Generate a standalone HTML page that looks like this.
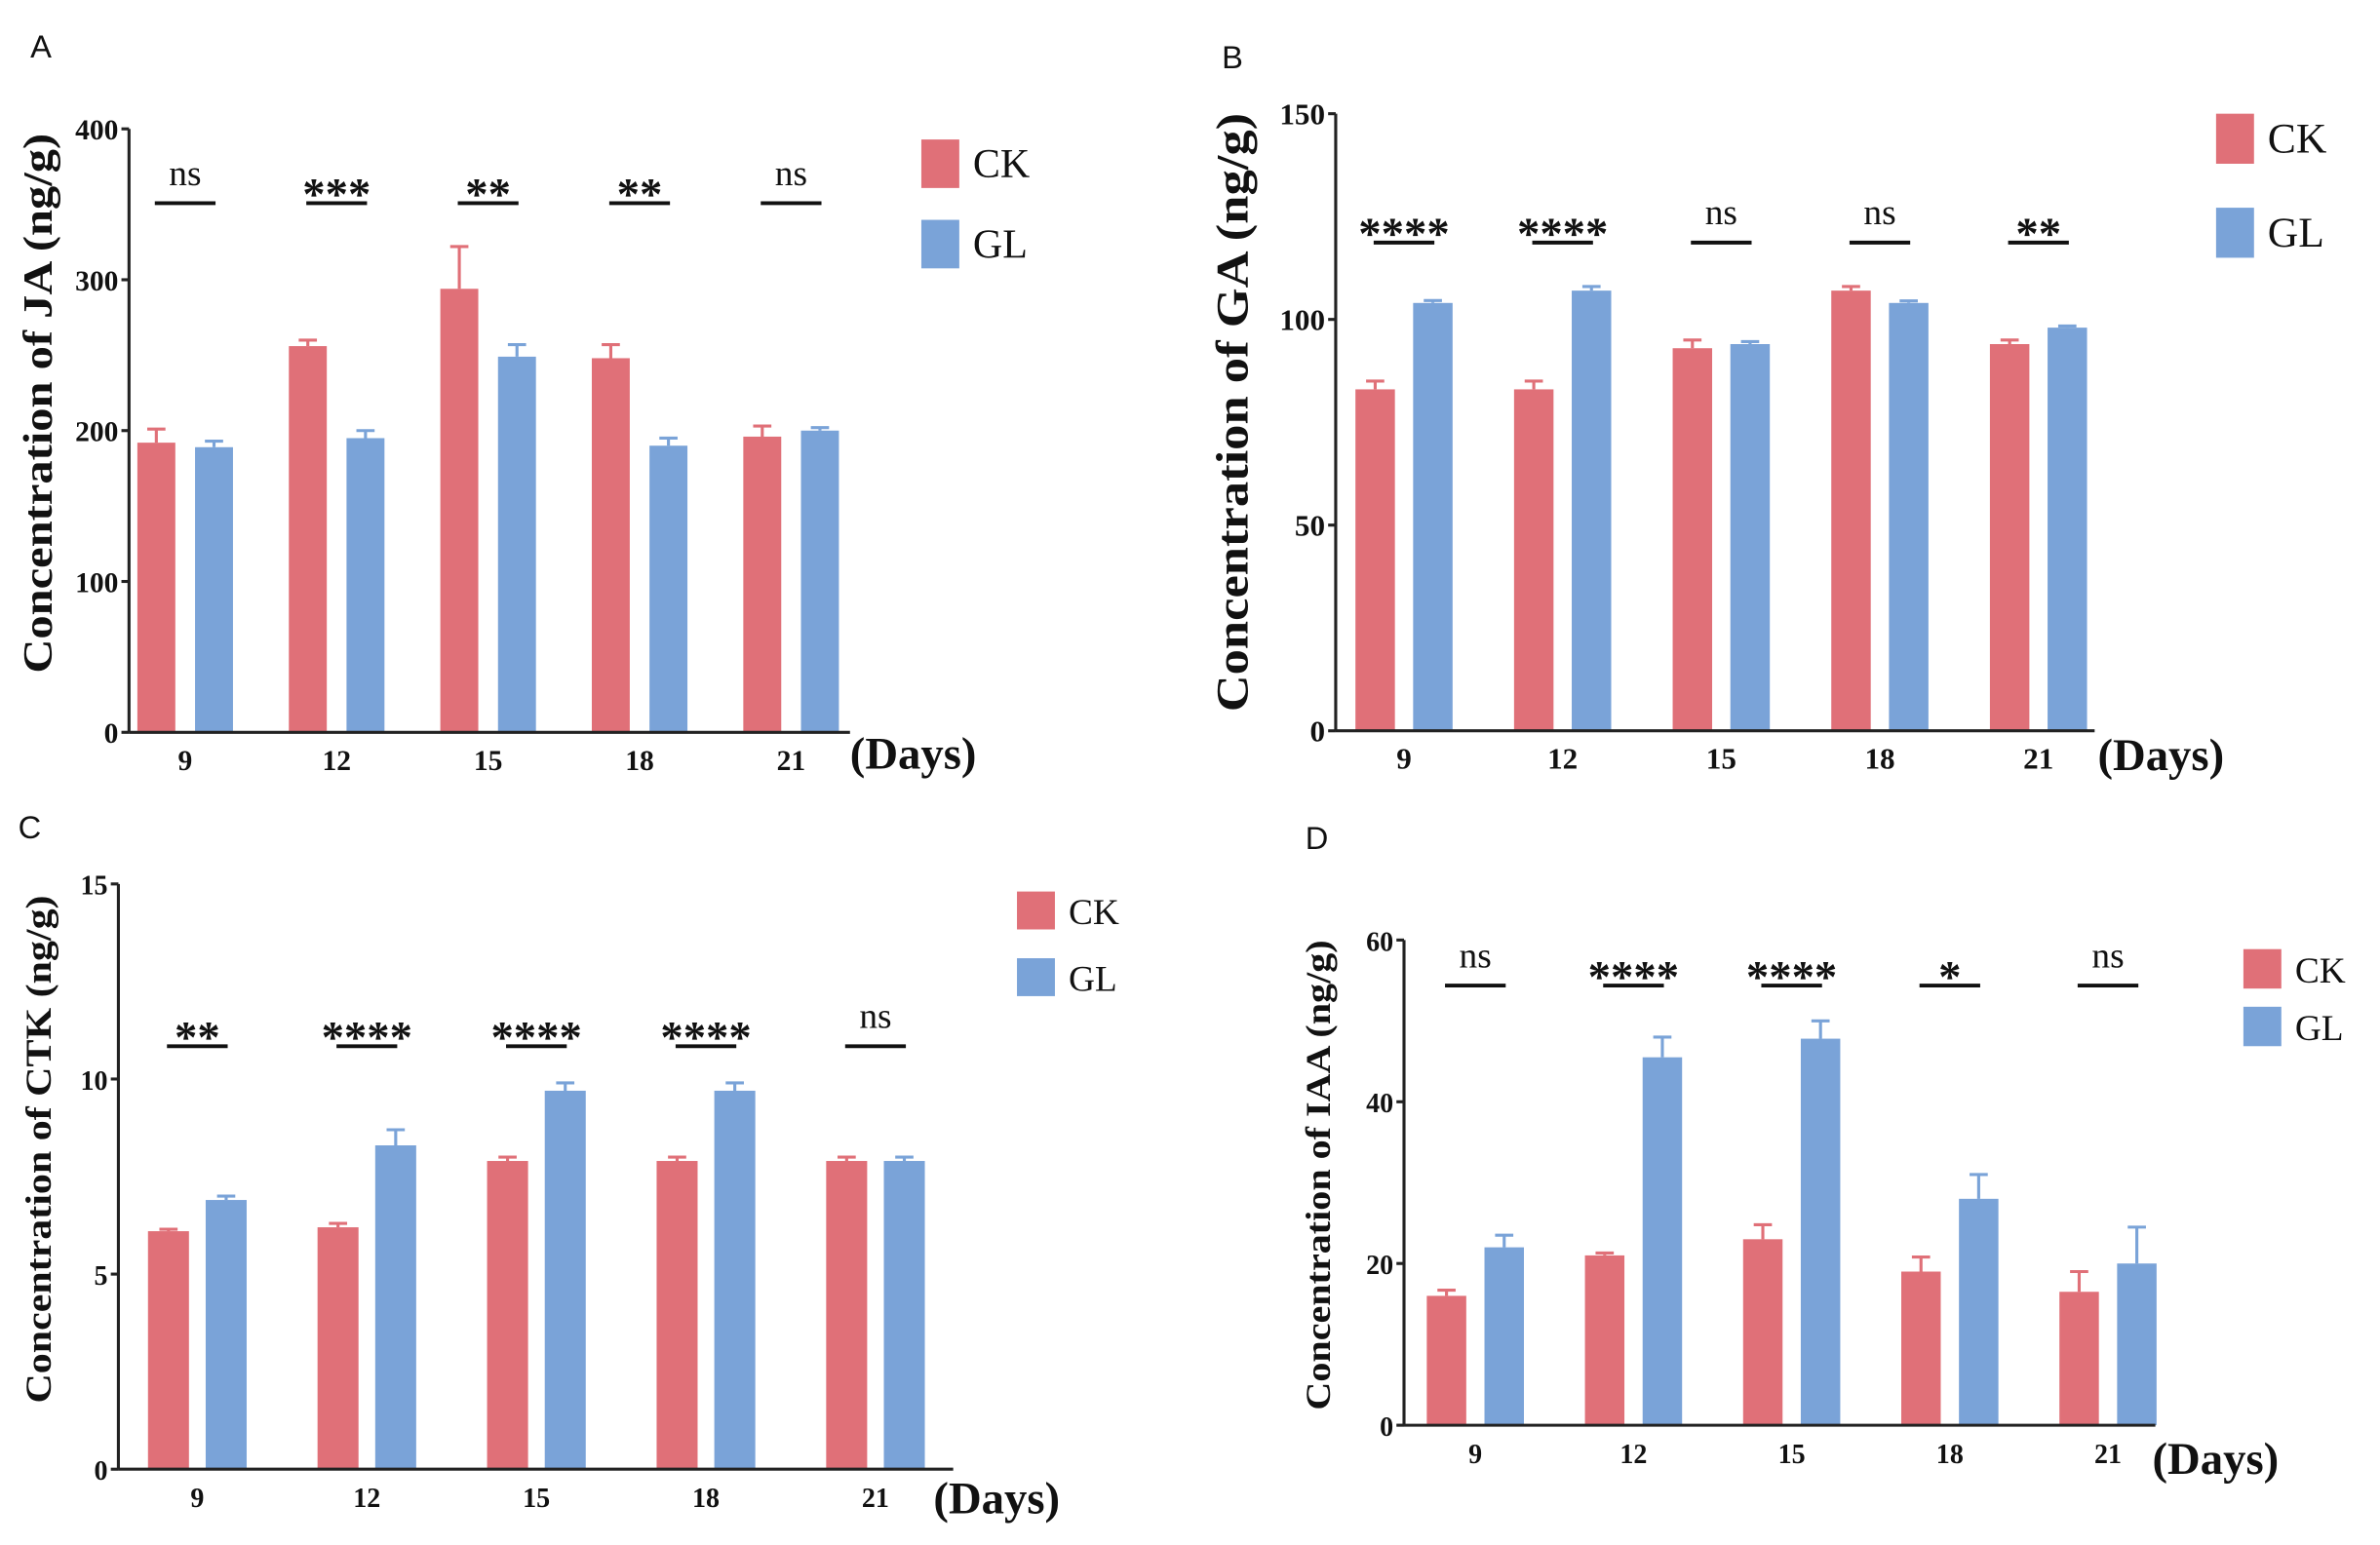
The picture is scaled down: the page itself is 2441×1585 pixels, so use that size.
<!DOCTYPE html>
<html><head><meta charset="utf-8"><style>
html,body{margin:0;padding:0;background:#fff}
svg{display:block}
text{font-family:"Liberation Serif",serif;fill:#111}
</style></head><body>
<svg id="fig" width="2441" height="1585" viewBox="0 0 1568 1019" preserveAspectRatio="none" xmlns="http://www.w3.org/2000/svg"></svg>
<script>
const days = ["9","12","15","18","21"];
const jaCK = [192,256,294,248,196], jaCKerr = [9,4,28,9,7];
const jaGL = [189,195,249,190,200], jaGLerr = [4,5,8,5,2];
const jaSig = ["ns","***","**","**","ns"];
const jaTicks = [0,100,200,300,400];
const gaCK = [83,83,93,107,94], gaCKerr = [2,2,2,1,1];
const gaGL = [104,107,94,104,98], gaGLerr = [0.6,1,0.6,0.5,0.4];
const gaSig = ["****","****","ns","ns","**"];
const gaTicks = [0,50,100,150];
const ctkCK = [6.1,6.2,7.9,7.9,7.9], ctkCKerr = [0.05,0.1,0.1,0.1,0.1];
const ctkGL = [6.9,8.3,9.7,9.7,7.9], ctkGLerr = [0.1,0.4,0.2,0.2,0.1];
const ctkSig = ["**","****","****","****","ns"];
const ctkTicks = [0,5,10,15];
const iaaCK = [16,21,23,19,16.5], iaaCKerr = [0.7,0.3,1.8,1.8,2.5];
const iaaGL = [22,45.5,47.8,28,20], iaaGLerr = [1.5,2.5,2.2,3,4.5];
const iaaSig = ["ns","****","****","*","ns"];
const iaaTicks = [0,20,40,60];

const NS="http://www.w3.org/2000/svg", svg=document.getElementById('fig');
const CKc="#e07078", GLc="#7aa3d8";
function el(tag,attrs,parent,txt){const e=document.createElementNS(NS,tag);for(const k in attrs)e.setAttribute(k,attrs[k]);if(txt!==undefined)e.textContent=txt;(parent||svg).appendChild(e);return e;}

const panels=[
 {id:"ja",label:"A",lx:20,ly:38,ax:85,y0:483,y1:85,max:400,xEnd:560,c0:122,step:99.8,bw:25,ck:jaCK,cke:jaCKerr,gl:jaGL,gle:jaGLerr,sig:jaSig,ticks:jaTicks,sigY:134,ylab:"Concentration of JA (ng/g)",ylx:28,yly:266,ylen:356,yfs:27,tfs:19,dfs:30,days:[560,507],legX:607,legY:[92,145],legH:32,legFs:27},
 {id:"ga",label:"B",lx:805,ly:45,ax:880,y0:482,y1:75,max:150,xEnd:1380,c0:925,step:104.5,bw:26,ck:gaCK,cke:gaCKerr,gl:gaGL,gle:gaGLerr,sig:gaSig,ticks:gaTicks,sigY:160,ylab:"Concentration of GA  (ng/g)",ylx:815,yly:272,ylen:395,yfs:30,tfs:20,dfs:30,days:[1382,508],legX:1460,legY:[75,137],legH:33,legFs:28},
 {id:"ctk",label:"C",lx:12,ly:553,ax:78,y0:969,y1:583,max:15,xEnd:628,c0:130,step:111.7,bw:27,ck:ctkCK,cke:ctkCKerr,gl:ctkGL,gle:ctkGLerr,sig:ctkSig,ticks:ctkTicks,sigY:690,ylab:"Concentration of CTK (ng/g)",ylx:28,yly:758,ylen:335,yfs:24,tfs:18,dfs:30,days:[615,998],legX:670,legY:[588,632],legH:25,legFs:24},
 {id:"iaa",label:"D",lx:860,ly:560,ax:925,y0:940,y1:620,max:60,xEnd:1420,c0:972,step:104.2,bw:26,ck:iaaCK,cke:iaaCKerr,gl:iaaGL,gle:iaaGLerr,sig:iaaSig,ticks:iaaTicks,sigY:650,ylab:"Concentration of IAA (ng/g)",ylx:871,yly:775,ylen:310,yfs:23,tfs:18,dfs:30,days:[1418,972],legX:1478,legY:[626,664],legH:26,legFs:24}
];

panels.forEach(p=>{
 const g=el('g',{});
 
 
 const y=v=>p.y0-(v/p.max)*(p.y0-p.y1);
 const cx=i=>p.c0+i*p.step;
 const pl=el('text',{x:p.lx,y:p.ly,'font-size':21,style:'font-family:"Liberation Sans",sans-serif'},g,p.label);
 
 
 [[p.ck,p.cke,CKc,-19,'ck'],[p.gl,p.gle,GLc,19,'gl']].forEach(([vals,errs,col,off,nm])=>{
  vals.forEach((v,i)=>{
   const x=cx(i)+off-p.bw/2;
   const r=el('rect',{x:x,y:y(v),width:p.bw,height:p.y0-y(v),fill:col},g);
   
   
   const ey=y(v+errs[i]);
   const e=el('path',{d:`M${cx(i)+off},${y(v)}V${ey}M${cx(i)+off-6},${ey}H${cx(i)+off+6}`,stroke:col,'stroke-width':2,fill:'none'},g);
   
   
  });
 });
 p.sig.forEach((s,i)=>{
  const l=el('line',{x1:cx(i)-20,x2:cx(i)+20,y1:p.sigY,y2:p.sigY,stroke:'#111','stroke-width':2.5},g);
  
  
  const isNs=s==="ns";
  const t=el('text',{x:cx(i),y:isNs?p.sigY-12:p.sigY+4,'text-anchor':'middle','font-size':isNs?24:30,'font-weight':isNs?'normal':'bold'},g,s);
  
  
 });
 const ya=el('line',{x1:p.ax,x2:p.ax,y1:p.y1,y2:p.y0,stroke:'#222','stroke-width':2},g);
 
 
 const xa=el('line',{x1:p.ax,x2:p.xEnd,y1:p.y0,y2:p.y0,stroke:'#222','stroke-width':2},g);
 
 
 p.ticks.forEach(t=>{
  el('line',{x1:p.ax-5,x2:p.ax,y1:y(t),y2:y(t),stroke:'#222','stroke-width':2},g);
  const tl=el('text',{x:p.ax-7,y:y(t)+7,'text-anchor':'end','font-size':p.tfs,'font-weight':'bold'},g,t);
  
  
 });
 days.forEach((d,i)=>{
  const tl=el('text',{x:cx(i),y:p.y0+25,'text-anchor':'middle','font-size':p.tfs,'font-weight':'bold'},g,d);
  
  
 });
 const dl=el('text',{x:p.days[0],y:p.days[1],'font-size':p.dfs,'font-weight':'bold'},g,'(Days)');
 
 
 const yl=el('text',{x:p.ylx,y:p.yly,'text-anchor':'middle','font-size':p.yfs,'font-weight':'bold',textLength:p.ylen,lengthAdjust:'spacingAndGlyphs',transform:`rotate(-90 ${p.ylx} ${p.yly})`,'dominant-baseline':'middle'},g,p.ylab);
 
 
 [["CK",CKc],["GL",GLc]].forEach(([n,c],k)=>{
  const r=el('rect',{x:p.legX,y:p.legY[k],width:25,height:p.legH,fill:c},g);
  
  
  const t=el('text',{x:p.legX+34,y:p.legY[k]+p.legH/2+9,'font-size':p.legFs},g,n);
  
  
 });
});
</script>
</body></html>
